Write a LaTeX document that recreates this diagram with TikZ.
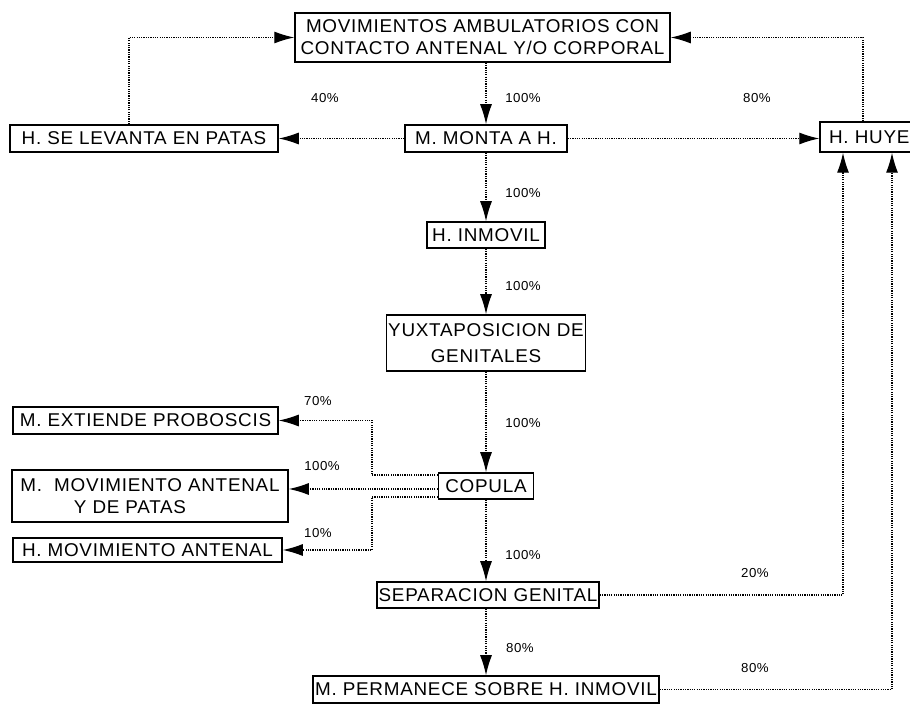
\documentclass[tikz,border=0pt]{standalone}
\usepackage{fontspec}
\setmainfont{Liberation Sans}[FakeStretch=1.02,LetterSpace=4]
\usetikzlibrary{arrows.meta}
\begin{document}
\begin{tikzpicture}[x=1pt,y=1pt,
  box/.style={draw, line width=1.5pt, inner sep=0pt, align=center,
    font=\fontsize{18.5}{22}\selectfont},
  conn/.style={line width=1.2pt, dash pattern=on 1.2pt off 1.1pt},
  arr/.style={conn, -{Latex[length=20pt,width=12pt]}},
  pct/.style={font=\fontsize{13}{15}\selectfont, inner sep=0pt}]
\useasboundingbox (0,0) rectangle (910,704);
\fill[white] (0,0) rectangle (910,704);

\node[box, minimum width=375, minimum height=49] (top) at (482.5,666.5)
  {MOVIMIENTOS AMBULATORIOS CON\\CONTACTO ANTENAL Y/O CORPORAL};
\node[box, minimum width=162, minimum height=27] (monta) at (486,565.5) {M. MONTA A H.};
\node[box, minimum width=268, minimum height=27] (selev) at (144,565.5) {H. SE LEVANTA EN PATAS};
\node[box, text width=102pt, inner xsep=9pt, minimum height=30, align=left] (huye) at (880,567) {H. HUYE};
\node[box, minimum width=118, minimum height=26] (inmovil) at (486,469) {H. INMOVIL};
\node[box, minimum width=199, minimum height=56, font=\fontsize{18.5}{26}\selectfont] (yuxta) at (486,361)
  {YUXTAPOSICION DE\\GENITALES};
\node[box, minimum width=95, minimum height=26] (copula) at (486,218) {COPULA};
\node[box, minimum width=265, minimum height=27] (probos) at (145.5,283.5) {M. EXTIENDE PROBOSCIS};
\node[box, minimum width=276, minimum height=52] (mmov) at (150,208)
  {M.\ \ MOVIMIENTO ANTENAL\\Y DE PATAS\hspace*{40pt}};
\node[box, minimum width=269, minimum height=24] (hmov) at (147.5,154) {H. MOVIMIENTO ANTENAL};
\node[box, minimum width=222, minimum height=26] (sep) at (488,109) {SEPARACION GENITAL};
\node[box, minimum width=346, minimum height=27] (perm) at (486,14.5) {M. PERMANECE SOBRE H. INMOVIL};

% main column
\draw[arr] (monta.north |- top.south) -- (monta.north);
\draw[arr] (monta.south) -- (inmovil.north);
\draw[arr] (inmovil.south) -- (yuxta.north);
\draw[arr] (yuxta.south) -- (copula.north);
\draw[arr] (copula.south) -- (copula.south |- sep.north);
\draw[arr] (sep.south -| perm.north) -- (perm.north);

% from M. MONTA A H.
\draw[arr] (monta.west) -- (selev.east);
\draw[arr] (monta.east) -- (huye.west |- monta.east);
\draw[arr] ([xshift=-15pt]selev.north) |- (top.west);
\draw[arr] ([xshift=-17pt]huye.north) |- (top.east);

% from COPULA
\coordinate (cu) at ([yshift=11pt]copula.west);
\coordinate (cm) at ([yshift=-3pt]copula.west);
\coordinate (cl) at ([yshift=-11pt]copula.west);
\coordinate (bx) at (372,0);
\draw[arr] (cu) -- (cu -| bx) -- (bx |- probos.east) -- (probos.east);
\draw[arr] (cm) -- (cm -| mmov.east);
\draw[arr] (cl) -- (cl -| bx) -- (bx |- hmov.east) -- (hmov.east);

% back to H. HUYE
\draw[arr] (sep.east) -| ([xshift=-37pt]huye.south);
\draw[arr] (perm.east) -| ([xshift=12pt]huye.south);

% percentages
\node[pct] (p1) at (325,606) {40\%};
\node[pct] (p2) at (523,606) {100\%};
\node[pct] (p3) at (757,606) {80\%};
\node[pct] (p4) at (523,511) {100\%};
\node[pct] (p5) at (523,418) {100\%};
\node[pct] (p6) at (523,281) {100\%};
\node[pct] (p7) at (318,303) {70\%};
\node[pct] (p8) at (322,238) {100\%};
\node[pct] (p9) at (318,171) {10\%};
\node[pct] (p10) at (523,149) {100\%};
\node[pct] (p11) at (755,131) {20\%};
\node[pct] (p12) at (520,56) {80\%};
\node[pct] (p13) at (755,36) {80\%};
\end{tikzpicture}
\end{document}
